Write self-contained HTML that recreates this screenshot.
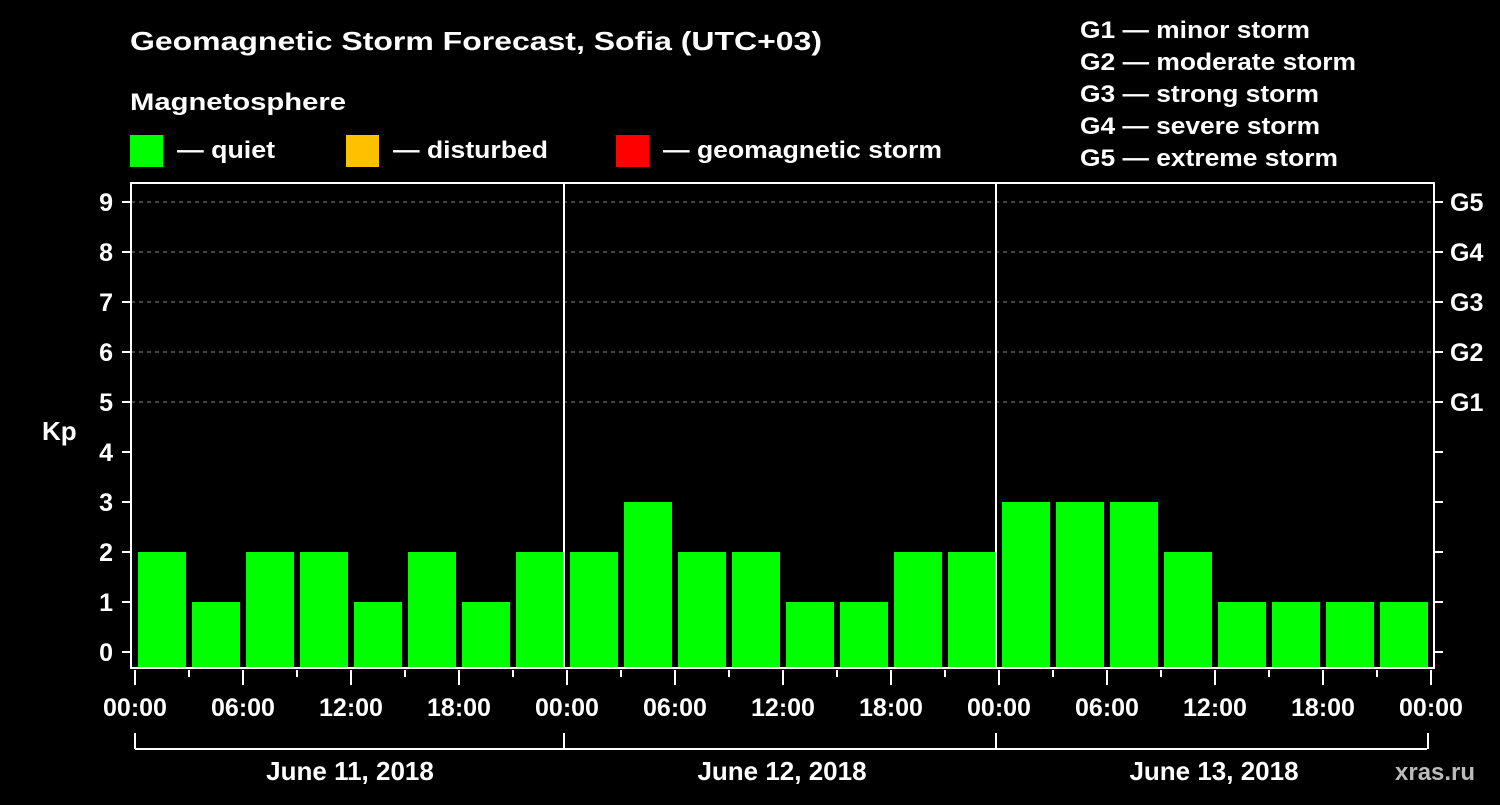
<!DOCTYPE html>
<html><head><meta charset="utf-8"><style>
body{margin:0;background:#000;}
svg text{font-family:"Liberation Sans",Arial,Helvetica,sans-serif;font-weight:bold;fill:#fff;}
</style></head><body>
<svg width="1500" height="800" viewBox="0 0 1500 800" xmlns="http://www.w3.org/2000/svg">
<rect width="1500" height="800" fill="#000"/>
<text x="130" y="50" font-size="26" textLength="692" lengthAdjust="spacingAndGlyphs">Geomagnetic Storm Forecast, Sofia (UTC+03)</text>
<text x="130" y="110" font-size="24" textLength="216" lengthAdjust="spacingAndGlyphs">Magnetosphere</text>
<g><rect x="130" y="135" width="33" height="32" fill="#00ff00"/><text x="177" y="158" font-size="24" textLength="98" lengthAdjust="spacingAndGlyphs">— quiet</text></g>
<g><rect x="346" y="135" width="33" height="32" fill="#ffc000"/><text x="393" y="158" font-size="24" textLength="155" lengthAdjust="spacingAndGlyphs">— disturbed</text></g>
<g><rect x="616" y="135" width="33" height="32" fill="#ff0000"/><text x="663" y="158" font-size="24" textLength="279" lengthAdjust="spacingAndGlyphs">— geomagnetic storm</text></g>
<g font-size="24">
<text x="1080" y="38" textLength="230" lengthAdjust="spacingAndGlyphs">G1 — minor storm</text>
<text x="1080" y="70" textLength="276" lengthAdjust="spacingAndGlyphs">G2 — moderate storm</text>
<text x="1080" y="102" textLength="239" lengthAdjust="spacingAndGlyphs">G3 — strong storm</text>
<text x="1080" y="134" textLength="240" lengthAdjust="spacingAndGlyphs">G4 — severe storm</text>
<text x="1080" y="166" textLength="258" lengthAdjust="spacingAndGlyphs">G5 — extreme storm</text>
</g>
<text x="42" y="440" font-size="26">Kp</text>
<text x="1395" y="780" font-size="24" style="fill:#bbb">xras.ru</text>
<g id="plot"></g>
</svg>
<script>
const dayLabels=["June 11, 2018","June 12, 2018","June 13, 2018"];
const kpValues=[2,1,2,2,1,2,1,2, 2,3,2,2,1,1,2,2, 3,3,3,2,1,1,1,1];
const yTicks=[0,1,2,3,4,5,6,7,8,9];
const gLabels=["G1","G2","G3","G4","G5"];
const xTickLabels=["00:00","06:00","12:00","18:00"];
const NS="http://www.w3.org/2000/svg";
const g=document.getElementById('plot');
const x0=135,dayW=432,slot=54,yBase=652,unit=50,plotTop=183,plotBottom=668,plotLeft=131,plotRight=1434;
const yScale=v=>yBase-v*unit;
const xScale=i=>x0+i*slot;
function mk(t,a,parent){const e=document.createElementNS(NS,t);for(const k in a)e.setAttribute(k,a[k]);(parent||g).appendChild(e);return e;}
yTicks.filter(v=>v>=5).forEach(v=>{const l=mk('line',{x1:plotLeft,x2:plotRight,y1:yScale(v),y2:yScale(v),stroke:'#888','stroke-dasharray':'4,4','stroke-width':1});

});
kpValues.forEach((v,i)=>{const c=v>=5?'#ff0000':(v>=4?'#ffc000':'#00ff00');
const r=mk('rect',{x:xScale(i)+3,y:yScale(v),width:48,height:plotBottom-yScale(v),fill:c});

});
const f=mk('rect',{x:plotLeft,y:plotTop,width:plotRight-plotLeft,height:plotBottom-plotTop,fill:'none',stroke:'#fff','stroke-width':2});


for(let d=1;d<dayLabels.length;d++){const l=mk('line',{x1:x0+d*dayW-3,x2:x0+d*dayW-3,y1:plotTop,y2:plotBottom,stroke:'#fff','stroke-width':2});

}
yTicks.forEach(v=>{mk('line',{x1:122,x2:plotLeft,y1:yScale(v),y2:yScale(v),stroke:'#fff','stroke-width':2});
mk('line',{x1:plotRight,x2:1443,y1:yScale(v),y2:yScale(v),stroke:'#fff','stroke-width':2});
const t=mk('text',{x:113,y:yScale(v)+9,'font-size':25,'text-anchor':'end'});t.textContent=v;

});
gLabels.forEach((s,i)=>{const t=mk('text',{x:1450,y:yScale(5+i)+9,'font-size':25});t.textContent=s;

});
for(let i=0;i<=kpValues.length;i++){const major=i%2===0;
mk('line',{x1:xScale(i),x2:xScale(i),y1:670,y2:major?685:677,stroke:'#fff','stroke-width':2});
if(major){const t=mk('text',{x:xScale(i),y:716,'font-size':25,'text-anchor':'middle'});t.textContent=xTickLabels[(i/2)%4];

}}
mk('line',{x1:x0,x2:x0+dayLabels.length*dayW-4,y1:749,y2:749,stroke:'#fff','stroke-width':2});
for(let d=0;d<=dayLabels.length;d++){const xx=x0+d*dayW-(d>0?3:0);mk('line',{x1:xx,x2:xx,y1:733,y2:749,stroke:'#fff','stroke-width':2});}
dayLabels.forEach((s,d)=>{const t=mk('text',{x:x0+d*dayW+dayW/2-1,y:780,'font-size':26,'text-anchor':'middle'});t.textContent=s;

});
</script>
</body></html>
